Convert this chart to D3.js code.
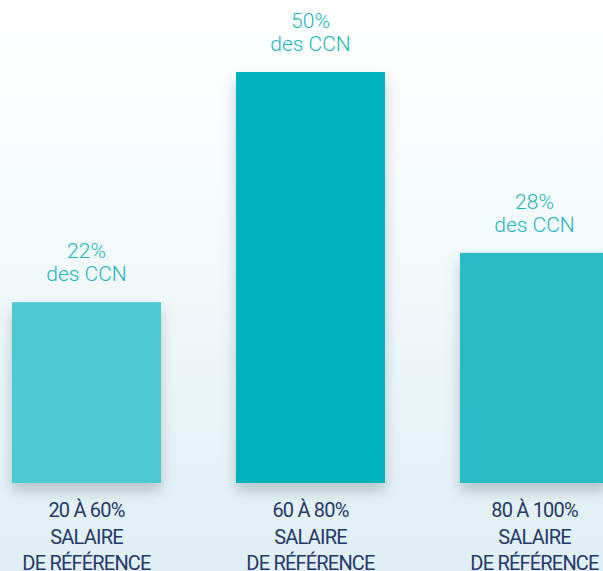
<!DOCTYPE html>
<html>
<head>
<meta charset="utf-8">
<script src="https://cdn.jsdelivr.net/npm/d3@7"></script>
<style>
  html, body { margin: 0; padding: 0; overflow: hidden; }
  svg { display: block; }
</style>
</head>
<body>
<script>
const width = 603;
const height = 571;

const categories = ["20 À 60%", "60 À 80%", "80 À 100%"];
const values = [22, 50, 28];
const barColors = ["#4fc9d1", "#00b1be", "#29bbc6"];
const subLines = ["SALAIRE", "DE RÉFÉRENCE"];

const svg = d3.select("body")
  .append("svg")
  .attr("width", width)
  .attr("height", height);

const defs = svg.append("defs");
const grad = defs.append("linearGradient")
  .attr("id", "bg")
  .attr("x1", 0).attr("y1", 0)
  .attr("x2", 0).attr("y2", 1);
grad.append("stop").attr("offset", "0%").attr("stop-color", "#ffffff");
grad.append("stop").attr("offset", "35%").attr("stop-color", "#f6fbfc");
grad.append("stop").attr("offset", "100%").attr("stop-color", "#dfeff3");

const shadow = defs.append("filter")
  .attr("id", "shadow")
  .attr("x", "-20%").attr("y", "-20%")
  .attr("width", "140%").attr("height", "140%");
shadow.append("feDropShadow")
  .attr("dx", 0).attr("dy", 8)
  .attr("stdDeviation", 7)
  .attr("flood-color", "#5a6f78")
  .attr("flood-opacity", 0.35);

svg.append("rect")
  .attr("width", width)
  .attr("height", height)
  .attr("fill", "url(#bg)");

const x = d3.scaleBand()
  .domain(categories)
  .range([12, 609])
  .paddingInner(75 / 224)
  .paddingOuter(0);

const y = d3.scaleLinear()
  .domain([0, 50])
  .range([483, 72]);

const data = categories.map((c, i) => ({ cat: c, value: values[i], color: barColors[i] }));

svg.selectAll(".bar")
  .data(data)
  .enter()
  .append("rect")
  .attr("class", "bar")
  .attr("x", d => x(d.cat))
  .attr("y", d => y(d.value))
  .attr("width", x.bandwidth())
  .attr("height", d => y(0) - y(d.value))
  .attr("fill", d => d.color)
  .attr("filter", "url(#shadow)");

const font = "'Roboto', 'Lato', sans-serif";
const cx = d => x(d.cat) + x.bandwidth() / 2;

// value labels above bars
const valLabels = svg.selectAll(".val")
  .data(data)
  .enter()
  .append("text")
  .attr("class", "val")
  .attr("text-anchor", "middle")
  .attr("font-family", font)
  .attr("font-weight", 300)
  .attr("font-size", 21)
  .attr("fill", "#1fb3bf")
  .attr("y", d => y(d.value) - 44);

valLabels.append("tspan")
  .attr("x", cx)
  .text(d => d.value + "%");
valLabels.append("tspan")
  .attr("x", cx)
  .attr("dy", 23)
  .text("des CCN");

// category labels below bars
const catLabels = svg.selectAll(".cat")
  .data(data)
  .enter()
  .append("text")
  .attr("class", "cat")
  .attr("text-anchor", "middle")
  .attr("font-family", font)
  .attr("font-weight", 400)
  .attr("font-size", 20)
  .attr("letter-spacing", -0.8)
  .attr("fill", "#27386a")
  .attr("y", 517);

catLabels.append("tspan")
  .attr("x", cx)
  .text(d => d.cat);
subLines.forEach(line => {
  catLabels.append("tspan")
    .attr("x", cx)
    .attr("dy", 26.5)
    .text(line);
});
</script>
</body>
</html>
